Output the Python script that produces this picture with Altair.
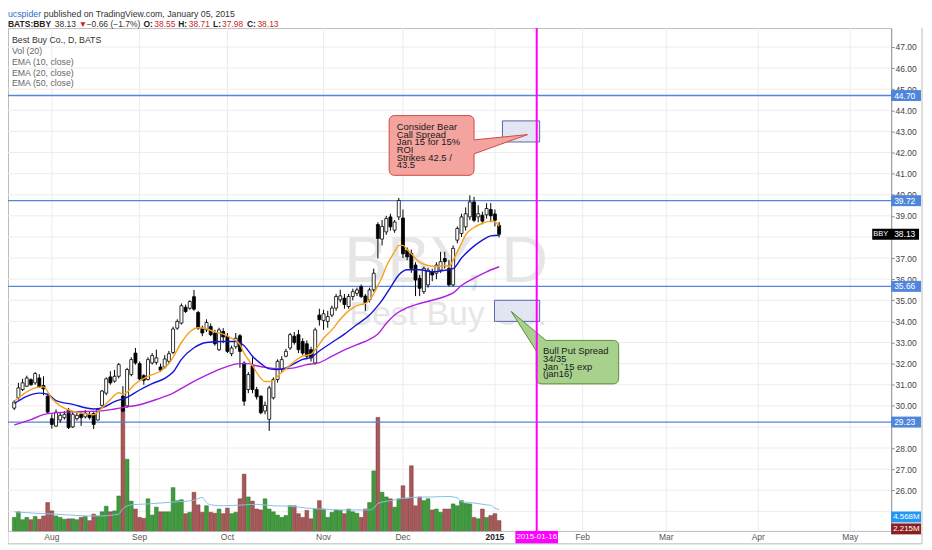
import altair as alt
import pandas as pd

W, H = 887, 505
UI = "Liberation Sans, Arial, sans-serif"
TXT = "Liberation Sans, Arial, sans-serif"

# ---------------- data ----------------
opens = [29.89,30.38,30.77,30.93,31.24,31.09,31.32,30.96,30.46,29.39,
29.04,29.33,29.44,29.80,29.00,29.39,29.60,29.48,29.60,29.64,
29.33,30.02,30.60,31.37,31.17,31.40,30.46,30.00,31.48,32.50,
32.00,31.43,31.25,32.03,32.06,31.84,31.84,32.11,32.53,33.68,
33.92,34.67,34.62,35.17,34.42,33.68,33.60,33.76,33.45,32.66,
33.52,33.29,32.47,32.80,33.32,32.03,30.77,31.90,30.77,30.46,
29.75,29.36,30.38,31.25,31.72,32.35,32.74,33.30,33.37,33.05,
32.94,32.66,32.03,34.30,34.05,34.00,34.30,34.63,35.02,35.10,
34.70,35.18,35.33,35.65,35.20,35.02,35.50,38.59,37.90,38.24,
38.95,38.32,38.95,38.90,37.38,37.22,36.67,36.04,35.41,35.73,
36.35,36.28,36.43,36.98,36.51,35.73,37.85,38.16,38.48,38.95,
39.66,38.95,39.03,39.05,39.30,39.09,38.55]
highs = [30.27,31.09,31.28,31.43,31.30,31.60,31.50,31.40,30.50,29.60,
29.83,29.70,29.75,29.90,29.70,29.70,29.75,29.80,29.70,29.70,
29.90,30.75,31.35,31.64,31.70,32.03,30.93,31.80,32.30,32.74,
32.10,31.50,32.30,32.50,32.66,32.00,32.40,32.60,33.75,34.10,
34.85,34.80,35.00,35.49,34.50,33.80,34.10,33.90,33.60,33.70,
33.68,33.45,32.85,33.45,33.40,32.10,31.60,32.30,30.90,30.50,
30.20,30.95,31.35,32.20,32.35,32.70,33.45,33.50,33.60,33.20,
33.10,32.80,33.70,34.60,34.55,34.50,34.75,35.30,35.50,35.30,
35.30,35.55,35.60,35.75,35.30,35.60,36.50,38.70,38.80,39.00,
39.10,38.80,39.85,39.30,37.50,37.40,36.80,36.20,36.60,36.55,
36.50,36.80,37.30,37.30,36.90,37.60,38.50,39.10,39.40,39.97,
39.90,39.50,39.20,39.60,39.60,39.30,38.71]
lows = [29.80,30.30,30.70,30.90,30.95,31.00,30.85,30.50,29.65,28.92,
29.00,29.20,29.35,28.90,28.95,29.30,29.05,29.40,29.35,28.90,
29.30,29.95,30.50,31.00,31.10,31.30,29.70,29.90,31.40,31.95,
31.20,31.00,31.20,31.95,31.95,31.60,31.75,32.00,32.45,33.60,
33.85,34.40,34.55,34.50,33.60,33.30,33.50,33.30,32.85,32.60,
32.97,32.50,32.35,32.70,31.80,30.00,30.60,30.60,30.30,29.60,
29.60,28.81,30.30,31.10,31.60,32.30,32.65,32.90,32.50,32.40,
32.20,32.10,31.95,33.80,33.60,33.70,34.20,34.50,34.90,34.60,
34.60,35.00,35.20,35.10,34.50,34.90,35.40,36.98,37.60,38.10,
38.30,38.20,38.80,37.00,36.90,36.30,35.20,35.20,35.30,35.60,
35.90,36.00,36.30,36.50,35.65,35.65,37.70,38.00,38.30,38.80,
38.70,38.70,38.60,38.87,38.70,38.50,37.98]
closes = [30.18,30.85,31.09,31.32,31.00,31.53,30.90,30.80,29.70,29.12,
29.70,29.55,29.60,28.97,29.60,29.55,29.44,29.65,29.44,29.12,
29.83,30.70,31.28,31.09,31.40,31.95,29.75,31.72,32.19,32.03,
31.27,31.21,32.19,32.38,32.27,31.69,32.22,32.47,33.64,34.00,
34.74,34.47,34.94,34.58,33.68,33.45,33.95,33.37,32.94,33.60,
33.26,32.58,32.74,33.20,32.58,30.22,31.48,30.77,30.43,29.67,
30.02,30.85,31.25,32.11,32.19,32.58,33.37,33.00,32.66,32.50,
32.35,32.27,33.60,34.08,34.36,34.23,34.63,35.18,35.21,34.80,
35.18,35.41,35.49,35.18,34.90,35.49,36.28,37.93,38.50,38.87,
38.48,38.71,39.73,37.20,37.06,36.51,35.96,35.57,36.51,36.43,
36.20,36.67,36.83,36.83,35.73,37.46,38.40,38.95,39.10,39.66,
38.79,39.10,38.75,39.35,39.00,38.79,38.13]
volumes = [2.9,4.1,2.4,2.9,2.4,3.1,2.5,3.2,6.1,4.3,
3.2,2.9,2.5,2.6,2.6,2.4,2.9,3.1,2.2,3.6,
3.2,4.1,5.3,4.1,4.3,7.5,26.5,15.4,6.4,4.7,
2.9,2.7,6.9,3.4,5.1,4.1,4.1,4.1,9.3,6.5,
6.7,3.7,4.0,8.3,5.6,4.0,5.4,4.0,3.8,4.7,
3.7,4.9,3.7,4.0,6.9,12.2,7.3,6.4,4.7,4.5,
6.9,4.7,4.1,3.4,2.9,3.3,5.4,5.4,3.7,2.9,
4.4,2.6,4.7,6.5,4.7,2.9,4.0,4.5,4.4,3.7,
4.7,4.1,3.8,2.9,4.7,6.1,12.9,24.4,8.3,7.3,
6.9,5.1,6.9,9.7,6.9,14.0,5.4,7.3,6.5,6.9,
4.5,4.7,4.0,4.7,4.7,5.8,5.4,6.5,5.9,5.8,
2.9,2.6,4.7,2.9,3.3,3.7,2.215]

volma_i = [0,5,10,15,20,25,26,28,32,38,43,45,46,47,50,55,58,62,66,70,75,80,85,86,87,90,95,100,104,106,107,110,113,114,115,116]
volma_v = [4.1,3.8,3.6,3.3,3.2,3.6,4.8,5.6,5.8,6.2,6.6,7.2,6.1,5.6,5.4,5.6,5.7,5.4,5.3,4.9,4.6,4.5,4.5,4.9,5.9,6.5,7.2,7.3,7.4,7.1,6.3,6.0,5.6,5.5,4.9,4.568]

ema10_i = [0,5,7,9,11,14,17,19,21,23,25,26,27,29,32,35,37,38,40,42,44,46,48,50,52,54,55,57,59,60,61,62,63,65,67,69,71,72,74,76,78,80,82,84,85,86,87,88,89,91,92,93,94,95,97,99,101,103,104,105,106,107,108,110,112,114,115,116]
ema10_v = [30.22,30.85,30.9,30.35,30.0,29.75,29.62,29.58,29.9,30.3,30.62,30.55,30.65,31.05,31.4,31.65,32.0,32.3,33.0,33.5,33.7,33.65,33.5,33.4,33.2,32.9,32.5,31.9,31.3,31.15,31.15,31.2,31.4,31.75,32.1,32.35,32.45,32.65,33.2,33.6,34.1,34.5,34.75,34.85,35.0,35.3,35.7,36.1,36.6,37.3,37.6,37.6,37.4,37.2,36.8,36.65,36.6,36.65,36.6,36.9,37.3,37.7,38.1,38.45,38.65,38.75,38.72,38.5]
ema20_i = [0,3,6,8,10,14,19,21,24,27,30,33,36,38,40,43,46,50,53,55,57,59,61,63,65,67,69,71,73,76,79,82,85,87,88,90,92,94,97,100,103,105,107,109,112,114,116]
ema20_v = [30.11,30.45,30.6,30.55,30.25,30.07,29.85,29.9,30.2,30.4,30.75,31.05,31.3,31.6,32.2,32.75,33.0,33.05,33.05,32.85,32.35,32.0,31.75,31.72,31.8,32.0,32.2,32.3,32.6,33.0,33.4,33.85,34.3,34.75,35.0,35.6,36.2,36.45,36.45,36.35,36.42,36.5,37.0,37.4,37.85,38.05,38.08]
ema50_i = [0,4,7,10,15,20,24,27,30,34,38,42,46,50,54,56,58,61,64,67,70,73,76,79,82,85,87,89,91,94,97,100,103,105,107,110,113,116]
ema50_v = [29.1,29.35,29.58,29.67,29.72,29.75,29.85,29.95,30.05,30.3,30.6,31.05,31.45,31.8,32.0,32.0,31.9,31.8,31.75,31.8,31.95,32.05,32.35,32.65,32.9,33.15,33.4,33.9,34.3,34.65,34.85,35.0,35.18,35.35,35.7,36.05,36.35,36.59]

level_prices = [44.70, 39.72, 35.66, 29.23]
grid_prices = list(range(25, 48))
axis_prices = [p for p in range(26, 48) if p not in (29, 38)]   # 29.00 / 38.00 sit under the tags
month_labels = ["Aug", "Sep", "Oct", "Nov", "Dec", "2015", "Feb", "Mar", "Apr", "May"]
month_pos = [9, 30, 51, 74, 93, 115, 136, 156, 178, 200]
expiry_pos = 125
expiry_label = "2015-01-16"
last_price = 38.13
vol_labels = ["4.568M", "2.215M"]

# spread boxes (index range, price range)
box_x1 = [116.8, 114.9]
box_x2 = [125.7, 125.7]
box_p1 = [43.5, 35.0]
box_p2 = [42.5, 34.0]

# callouts
red_box = dict(x1=89.7, x2=110.0, p1=43.75, p2=40.92)
red_text = ["Consider Bear", "Call Spread", "Jan 15 for 15%", "ROI", "Strikes 42.5 /", "43.5"]
red_text_pos = (91.5, 43.43)
red_ptr_x = [109.3, 122.8]
red_ptr_top = [42.59, 42.85]
red_ptr_bot = [41.89, 42.85]
red_edges = [(110.0, 42.6, 122.8, 42.85), (110.0, 41.94, 122.8, 42.85)]

green_box = dict(x1=124.9, x2=144.6, p1=33.1, p2=31.04)
green_text = ["Bull Put Spread", "34/35", "Jan `15 exp", "(jan16)"]
green_text_pos = (126.5, 32.81)
green_ptr_x = [118.9, 124.9, 127.2]
green_ptr_top = [34.47, 33.48, 33.1]
green_ptr_bot = [34.47, 32.6, 32.9]
green_edges = [(118.9, 34.47, 124.9, 32.6), (118.9, 34.47, 127.2, 33.1)]

# ---------------- scales ----------------
xs = alt.Scale(domain=[-0.3, 208.6], nice=False, zero=False)
ps = alt.Scale(domain=[24.075, 47.896], nice=False, zero=False)
vs = alt.Scale(domain=[0, 108.1], nice=False, zero=False)


def X(f):
    return alt.X(f, scale=xs, axis=None)


def Y(f):
    return alt.Y(f, scale=ps, axis=None)


df = pd.DataFrame({"i": list(range(len(closes))), "open": opens, "high": highs,
                   "low": lows, "close": closes, "vol": volumes})
UP = "datum.close >= datum.open"

layers = []

# horizontal grid + price axis
layers.append(alt.Chart(pd.DataFrame({"p": grid_prices})).mark_rule(color="#ececec", strokeWidth=1).encode(
    y=alt.Y("p:Q", scale=ps, axis=alt.Axis(orient="right", values=axis_prices, format=".2f", grid=False,
                                            tickSize=3, tickColor="#888", domainColor="#999",
                                            labelColor="#444", labelFontSize=8.5, labelFont=UI,
                                            labelPadding=1, labelOverlap=False, title=None)),
    x=alt.value(0), x2=alt.value(W)))

# vertical grid
layers.append(alt.Chart(pd.DataFrame({"m": month_pos})).mark_rule(color="#ececec", strokeWidth=1).encode(
    x=X("m:Q"), y=alt.value(0), y2=alt.value(H)))

# watermark
layers.append(alt.Chart(pd.DataFrame({"t": ["BBY, D"]})).mark_text(
    font=TXT, fontSize=65, color="#e6e6e6", align="center", baseline="alphabetic").encode(
    x=alt.value(440), y=alt.value(255), text="t:N"))
layers.append(alt.Chart(pd.DataFrame({"t": ["Best Buy Co."]})).mark_text(
    font=TXT, fontSize=34, color="#e6e6e6", align="center", baseline="alphabetic").encode(
    x=alt.value(442), y=alt.value(298), text="t:N"))

# volume
layers.append(alt.Chart(df).mark_bar(size=3.8, strokeWidth=0.5).encode(
    x=X("i:Q"), y=alt.Y("vol:Q", scale=vs, axis=None),
    fill=alt.condition(UP, alt.value("#3f9c3c"), alt.value("#a85858")),
    stroke=alt.condition(UP, alt.value("#2a6f28"), alt.value("#7a3a3a"))))
layers.append(alt.Chart(pd.DataFrame({"i": volma_i, "v": volma_v})).mark_line(
    color="#86bfe8", strokeWidth=1, interpolate="monotone").encode(
    x=X("i:Q"), y=alt.Y("v:Q", scale=vs, axis=None)))

# level lines
layers.append(alt.Chart(pd.DataFrame({"p": level_prices})).mark_rule(color="#5585d8", strokeWidth=1.4).encode(
    y=Y("p:Q"), x=alt.value(0), x2=alt.value(W)))

# candles
layers.append(alt.Chart(df).mark_rule(color="#000000", strokeWidth=1).encode(
    x=X("i:Q"), y=Y("low:Q"), y2=alt.Y2("high:Q")))
layers.append(alt.Chart(df).mark_bar(size=3, stroke="#000000", strokeWidth=0.8).encode(
    x=X("i:Q"), y=Y("open:Q"), y2=alt.Y2("close:Q"),
    fill=alt.condition(UP, alt.value("#ffffff"), alt.value("#000000"))))

# EMAs
for ei, ev, col in [(ema50_i, ema50_v, "#b020e0"), (ema20_i, ema20_v, "#1515d6"), (ema10_i, ema10_v, "#f5a21e")]:
    layers.append(alt.Chart(pd.DataFrame({"i": ei, "v": ev})).mark_line(
        color=col, strokeWidth=1.4, interpolate="monotone").encode(x=X("i:Q"), y=Y("v:Q")))

# spread boxes
layers.append(alt.Chart(pd.DataFrame({"x1": box_x1, "x2": box_x2, "p1": box_p1, "p2": box_p2})).mark_rect(
    fill="#dfe3f1", fillOpacity=0.9, stroke="#5d65a8", strokeWidth=1).encode(
    x=X("x1:Q"), x2=alt.X2("x2:Q"), y=Y("p1:Q"), y2=alt.Y2("p2:Q")))


def callout(box, ptr_x, ptr_top, ptr_bot, edges, fill, stroke, lines, tpos):
    out = []
    out.append(alt.Chart(pd.DataFrame([box])).mark_rect(
        fill=fill, stroke=stroke, strokeWidth=1, cornerRadius=5).encode(
        x=X("x1:Q"), x2=alt.X2("x2:Q"), y=Y("p1:Q"), y2=alt.Y2("p2:Q")))
    out.append(alt.Chart(pd.DataFrame({"i": ptr_x, "a": ptr_top, "b": ptr_bot})).mark_area(
        color=fill, opacity=1).encode(x=X("i:Q"), y=Y("a:Q"), y2=alt.Y2("b:Q")))
    out.append(alt.Chart(pd.DataFrame(edges, columns=["x1", "p1", "x2", "p2"])).mark_rule(
        color=stroke, strokeWidth=1).encode(
        x=X("x1:Q"), x2=alt.X2("x2:Q"), y=Y("p1:Q"), y2=alt.Y2("p2:Q")))
    out.append(alt.Chart(pd.DataFrame({"i": [tpos[0]], "p": [tpos[1]], "t": ["\n".join(lines)]})).mark_text(
        font=TXT, fontSize=9.5, lineHeight=7.6, lineBreak="\n", align="left", baseline="top",
        color="#1a1a1a").encode(x=X("i:Q"), y=Y("p:Q"), text="t:N"))
    return out


layers += callout(red_box, red_ptr_x, red_ptr_top, red_ptr_bot, red_edges,
                  "#f3a49e", "#cf4b43", red_text, red_text_pos)
layers += callout(green_box, green_ptr_x, green_ptr_top, green_ptr_bot, green_edges,
                  "#a9d18e", "#5a8f3a", green_text, green_text_pos)

# expiry line
layers.append(alt.Chart(pd.DataFrame({"m": [expiry_pos]})).mark_rule(color="#ff00ff", strokeWidth=2).encode(
    x=X("m:Q"), y=alt.value(0), y2=alt.value(H)))

# price label boxes
lv = pd.DataFrame({"p": level_prices})
layers.append(alt.Chart(lv).transform_calculate(lo="datum.p - 0.26", hi="datum.p + 0.26").mark_rect(
    color="#4f86dc").encode(x=alt.value(W), x2=alt.value(W + 30), y=Y("lo:Q"), y2=alt.Y2("hi:Q")))
layers.append(alt.Chart(lv).mark_text(font=UI, fontSize=8.5, color="#ffffff", align="left", baseline="middle").encode(
    x=alt.value(W + 3), y=Y("p:Q"), text=alt.Text("p:Q", format=".2f")))

lp = pd.DataFrame({"p": [last_price]})
layers.append(alt.Chart(lp).transform_calculate(lo="datum.p - 0.26", hi="datum.p + 0.26").mark_rect(
    color="#000000").encode(x=alt.value(W - 19), x2=alt.value(W + 28), y=Y("lo:Q"), y2=alt.Y2("hi:Q")))
layers.append(alt.Chart(lp).mark_text(font=UI, fontSize=8.5, color="#ffffff", align="left", baseline="middle").encode(
    x=alt.value(W + 3), y=Y("p:Q"), text=alt.Text("p:Q", format=".2f")))
layers.append(alt.Chart(lp).mark_text(font=UI, fontSize=7.5, color="#ffffff", align="left", baseline="middle",
                                      text="BBY").encode(x=alt.value(W - 18), y=Y("p:Q")))

# volume labels
for txt, bg, yy in zip(vol_labels, ["#2196f3", "#8b1e1e"], [491, 503]):
    layers.append(alt.Chart(pd.DataFrame({"t": [txt]})).mark_rect(color=bg).encode(
        x=alt.value(W), x2=alt.value(W + 30), y=alt.value(yy - 5.5), y2=alt.value(yy + 5.5)))
    layers.append(alt.Chart(pd.DataFrame({"t": [txt]})).mark_text(
        font=UI, fontSize=8, color="#ffffff", align="left", baseline="middle").encode(
        x=alt.value(W + 2), y=alt.value(yy), text="t:N"))

# x axis labels
mdf = pd.DataFrame({"m": month_pos, "t": month_labels})
layers.append(alt.Chart(mdf).transform_filter("datum.t != '2015'").mark_text(
    font=UI, fontSize=8.5, baseline="middle", align="center", color="#555555").encode(
    x=X("m:Q"), y=alt.value(H + 6), text="t:N"))
layers.append(alt.Chart(mdf).transform_filter("datum.t == '2015'").mark_text(
    font=UI, fontSize=8.5, baseline="middle", align="center", color="#222222", fontWeight="bold").encode(
    x=X("m:Q"), y=alt.value(H + 6), text="t:N"))
edf = pd.DataFrame({"m": [expiry_pos], "t": [expiry_label]})
layers.append(alt.Chart(edf).transform_calculate(a="datum.m - 5.1", b="datum.m + 5.1").mark_rect(
    color="#ff00ff").encode(x=X("a:Q"), x2=alt.X2("b:Q"), y=alt.value(H), y2=alt.value(H + 13)))
layers.append(alt.Chart(edf).mark_text(font=UI, fontSize=8, color="#ffffff", baseline="middle").encode(
    x=X("m:Q"), y=alt.value(H + 6.5), text="t:N"))

# outer frame
layers.append(alt.Chart(pd.DataFrame({"k": [0]})).mark_rule(color="#bbbbbb").encode(
    x=alt.value(W + 31), y=alt.value(0), y2=alt.value(H + 13)))
layers.append(alt.Chart(pd.DataFrame({"k": [0]})).mark_rule(color="#bbbbbb").encode(
    x=alt.value(0), x2=alt.value(W + 31), y=alt.value(H + 13)))
layers.append(alt.Chart(pd.DataFrame({"k": [0]})).mark_rule(color="#bbbbbb").encode(
    x=alt.value(0), y=alt.value(H), y2=alt.value(H + 13)))

# legend block
legend_lines = ["Best Buy Co., D, BATS", "Vol (20)", "EMA (10, close)", "EMA (20, close)", "EMA (50, close)"]
legend_y = [12, 23, 34, 45, 55]
for t, yy, c in zip(legend_lines, legend_y, ["#333333"] + ["#666666"] * 4):
    layers.append(alt.Chart(pd.DataFrame({"t": [t]})).mark_text(
        font=UI, fontSize=8.8, color=c, align="left", baseline="middle").encode(
        x=alt.value(4), y=alt.value(yy), text="t:N"))

# header
hdr1 = [("ucspider", 0, "#2f6fc9", "normal"),
        ("published on TradingView.com, January 05, 2015", 36, "#333333", "normal")]
hdr2 = [("BATS:BBY", 0, "#222222", "bold"), ("38.13", 47, "#333333", "normal"),
        ("\u25bc", 71, "#c62828", "normal"), ("\u22120.66 (\u22121.7%)", 79, "#333333", "normal"),
        ("O:", 136, "#222222", "bold"), ("38.55", 147, "#c62828", "normal"),
        ("H:", 171, "#222222", "bold"), ("38.71", 181.5, "#c62828", "normal"),
        ("L:", 206, "#222222", "bold"), ("37.98", 215, "#c62828", "normal"),
        ("C:", 240, "#222222", "bold"), ("38.13", 250.5, "#c62828", "normal")]
for seg, yy, fs in [(hdr1, -14, 8.8), (hdr2, -4.5, 8.5)]:
    for t, xx, c, w in seg:
        layers.append(alt.Chart(pd.DataFrame({"t": [t]})).mark_text(
            font=UI, fontSize=fs, color=c, fontWeight=w, align="left", baseline="middle").encode(
            x=alt.value(xx), y=alt.value(yy), text="t:N"))

chart = alt.layer(*layers).properties(
    width=W, height=H,
    padding={"left": 0, "top": 19, "right": 33, "bottom": 15},
    autosize=alt.AutoSizeParams(type="none"),
).resolve_scale(y="independent").configure_view(stroke="#bbbbbb", strokeWidth=1)

chart.save("out.html", embed_options={"renderer": "svg", "actions": False})
